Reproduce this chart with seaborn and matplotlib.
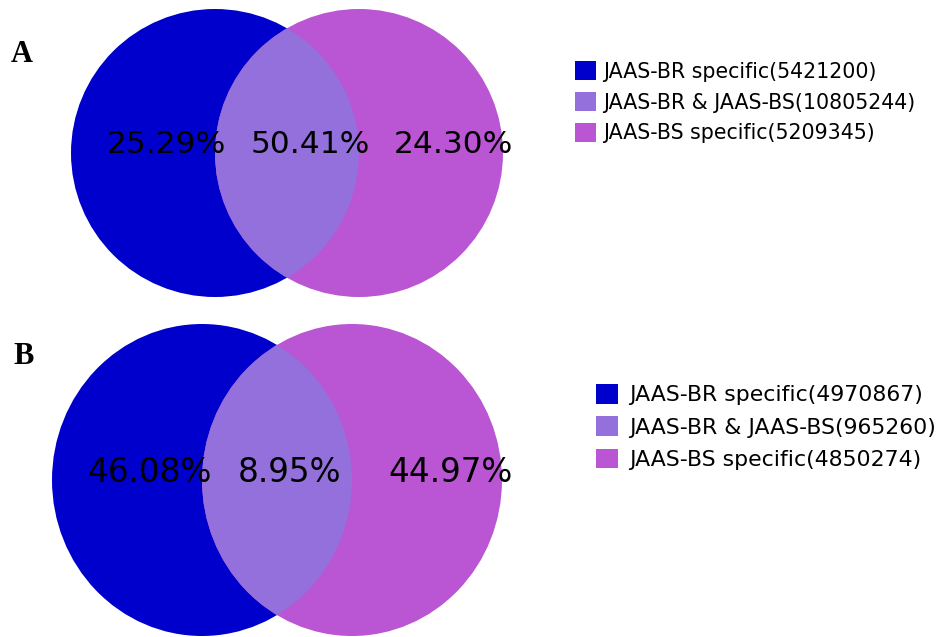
import matplotlib
matplotlib.use("Agg")
import matplotlib.pyplot as plt
import seaborn as sns
from matplotlib.patches import Ellipse, Patch

# counts for each panel: [BR specific, shared, BS specific]
labels_a = ["JAAS-BR specific", "JAAS-BR & JAAS-BS", "JAAS-BS specific"]
counts_a = [5421200, 10805244, 5209345]
labels_b = ["JAAS-BR specific", "JAAS-BR & JAAS-BS", "JAAS-BS specific"]
counts_b = [4970867, 965260, 4850274]
panel_names = ["A", "B"]

sns.set_style("white")
plt.rcParams["text.color"] = "black"
colors = ["#0000CD", "#9370DB", "#BA55D3"]  # mediumblue, mediumpurple, mediumorchid

W, H = 944, 637
fig = plt.figure(figsize=(W / 100, H / 100), dpi=100)
ax = fig.add_axes([0, 0, 1, 1])
ax.set_xlim(0, W)
ax.set_ylim(H, 0)
ax.axis("off")

# layout per panel (pixel coords)
layout = [
    dict(c1=(215, 153), c2=(359, 153), rx=144, ry=144, text_y=153, text_x=[166, 310, 453],
         fs=22.5, lab=(22, 54), leg=(575, 72.5), leg_fs=14.8, pad=0.35, sp=0.52),
    dict(c1=(202, 480), c2=(352, 480), rx=150, ry=156, text_y=482, text_x=[150, 290, 450],
         fs=23.5, lab=(24, 356), leg=(596, 396), leg_fs=15.8, pad=0.5, sp=0.5),
]

for name, labels, counts, lay in zip(panel_names, [labels_a, labels_b], [counts_a, counts_b], layout):
    total = sum(counts)
    left = Ellipse(lay["c1"], 2 * lay["rx"], 2 * lay["ry"], color=colors[0], lw=0)
    right = Ellipse(lay["c2"], 2 * lay["rx"], 2 * lay["ry"], color=colors[2], lw=0)
    ax.add_patch(left)
    ax.add_patch(right)
    # overlap: right circle clipped to the left one
    lens = Ellipse(lay["c2"], 2 * lay["rx"], 2 * lay["ry"], color=colors[1], lw=0)
    ax.add_patch(lens)
    lens.set_clip_path(left)

    for x, c in zip(lay["text_x"], counts):
        ax.text(x, lay["text_y"], f"{c / total * 100:.2f}%", ha="center", va="baseline",
                fontsize=lay["fs"], color="black", family="DejaVu Sans")

    ax.text(lay["lab"][0], lay["lab"][1], name, ha="center", va="center", color="black",
            fontsize=22, fontweight="bold", family="Liberation Serif")

    handles = [Patch(facecolor=col, edgecolor="none") for col in colors]
    leg_labels = [f"{l}({c})" for l, c in zip(labels, counts)]
    fs = lay["leg_fs"]
    lx, ly = lay["leg"]
    leg = fig.legend(handles, leg_labels, loc="upper left",
                     bbox_to_anchor=(lx / W, 1 - (ly - fs * 0.75) / H),
                     frameon=False, fontsize=fs, handlelength=1.0, handleheight=1.0,
                     handletextpad=lay["pad"], labelspacing=lay["sp"], borderpad=0, borderaxespad=0)
    for t in leg.get_texts():
        t.set_color("black")

fig.savefig("out.png", dpi=100)
